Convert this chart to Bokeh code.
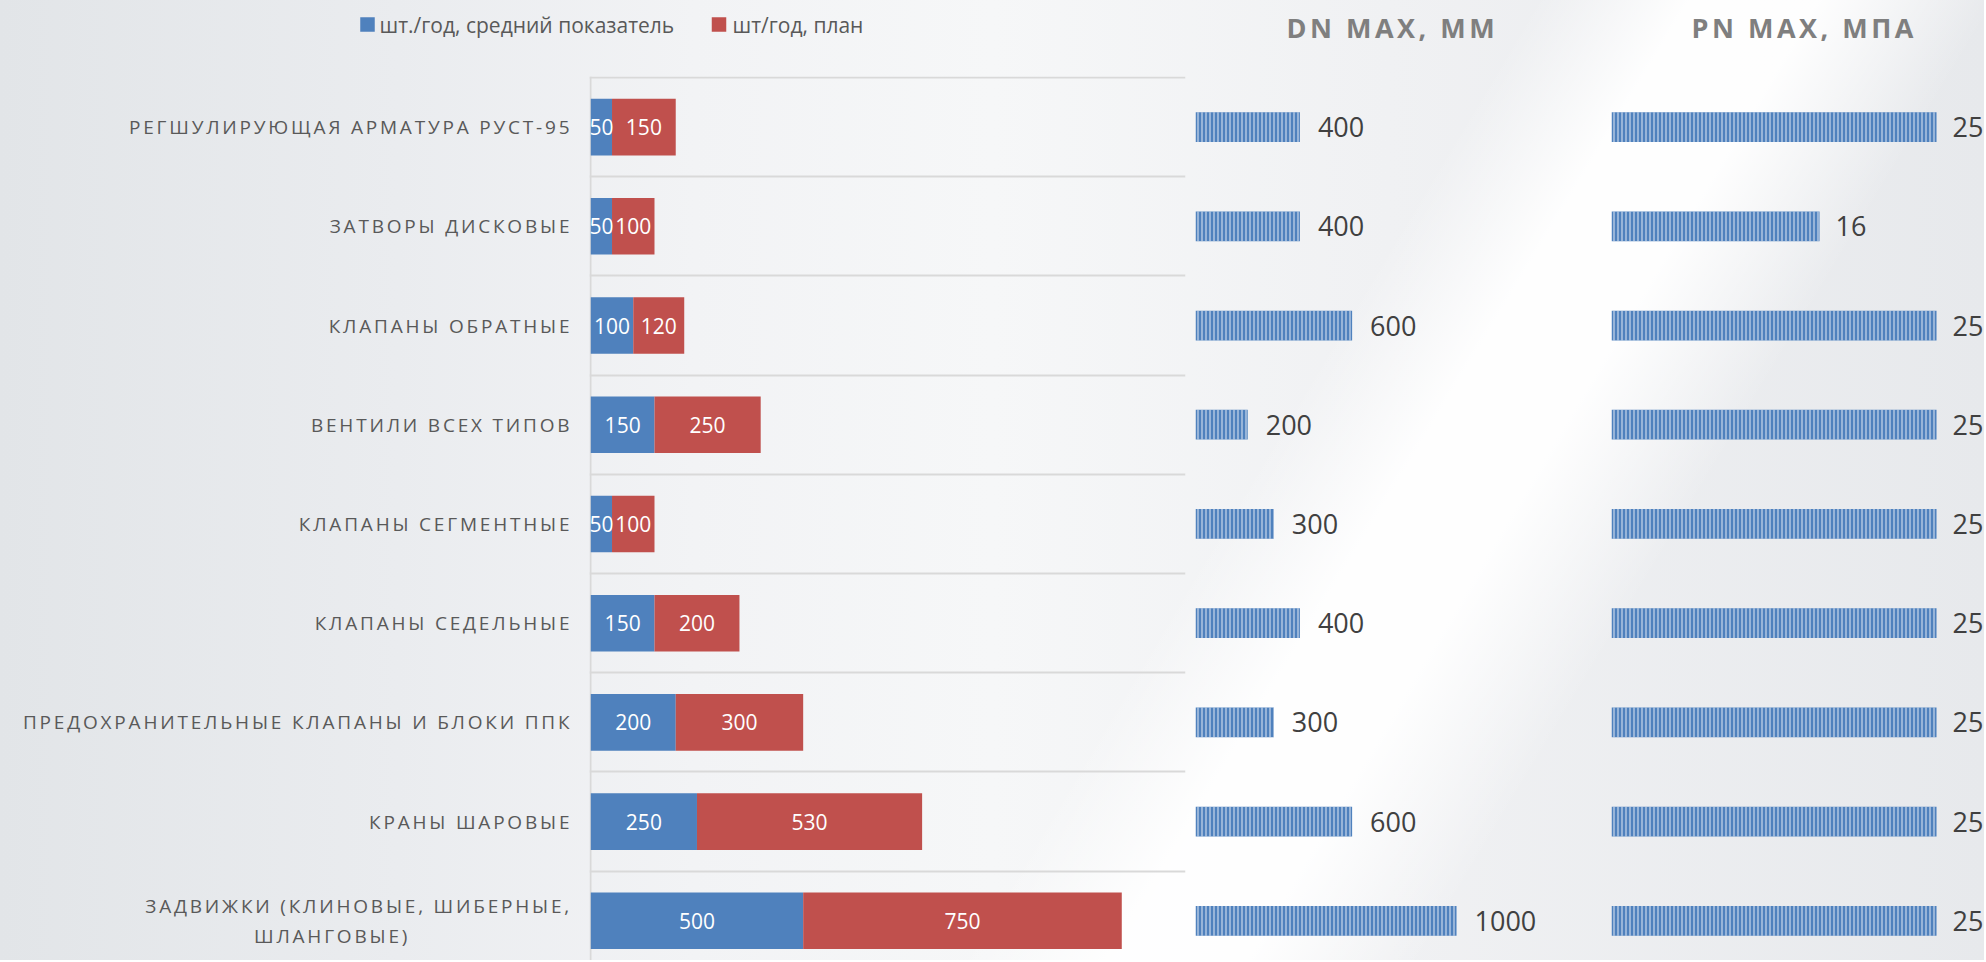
from bokeh.plotting import figure
from bokeh.models import ColumnDataSource, Range1d, FixedTicker
from bokeh.layouts import row, column
from bokeh.embed import file_html
from bokeh.resources import INLINE
from bokeh.core.properties import value, field

# ---------------- data ----------------
categories = [
    "РЕГШУЛИРУЮЩАЯ АРМАТУРА РУСТ-95",
    "ЗАТВОРЫ ДИСКОВЫЕ",
    "КЛАПАНЫ ОБРАТНЫЕ",
    "ВЕНТИЛИ ВСЕХ ТИПОВ",
    "КЛАПАНЫ СЕГМЕНТНЫЕ",
    "КЛАПАНЫ СЕДЕЛЬНЫЕ",
    "ПРЕДОХРАНИТЕЛЬНЫЕ КЛАПАНЫ И БЛОКИ ППК",
    "КРАНЫ ШАРОВЫЕ",
    "ЗАДВИЖКИ (КЛИНОВЫЕ, ШИБЕРНЫЕ,\nШЛАНГОВЫЕ)",
]
avg_per_year = [50, 50, 100, 150, 50, 150, 200, 250, 500]
plan_per_year = [150, 100, 120, 250, 100, 200, 300, 530, 750]
dn_max = [400, 400, 600, 200, 300, 400, 300, 600, 1000]
pn_max = [25, 16, 25, 25, 25, 25, 25, 25, 25]
series_names = ["шт./год, средний показатель", "шт/год, план"]
dn_title = "DN MAX, ММ"
pn_title = "PN MAX, МПА"

# ---------------- style ----------------
BLUE = "#4f81bd"
RED = "#c0504d"
SERIES_COLORS = [BLUE, RED]
GRID = "#d9d9d9"
FONT = "Open Sans"
LABEL_SIZE = 19
LABEL_SPACING = 2.8   # css letter-spacing of category labels
TITLE_SPACING = 3.5

W_L, W_M, W_D, W_P = 586, 609, 416, 373
H_HEAD, H_BODY = 73, 887

# header layout (pixels inside the header, measured from its bottom)
LEG_KEY_X = [367, 718.5]
LEG_TXT_X = [379, 732]
LEG_Y = H_HEAD - 24
TITLE_Y = H_HEAD - 27

n = len(categories)
ypos = [n - 1 - i for i in range(n)]
y_range = Range1d(n - 0.5 + 0.01 - 8.91, n - 0.5 + 0.01)


def base(width, height, x_range, yr, **kw):
    p = figure(width=width, height=height, x_range=x_range, y_range=yr,
               output_backend="svg", toolbar_location=None, min_border=0, **kw)
    p.background_fill_alpha = 0
    p.border_fill_alpha = 0
    p.outline_line_color = None
    p.axis.visible = False
    p.grid.visible = False
    return p


# ---------------- header: legend ----------------
hl = base(W_L + W_M, H_HEAD, Range1d(0, W_L + W_M), Range1d(0, H_HEAD))
hl.scatter(x=LEG_KEY_X, y=[LEG_Y] * 2, marker="square", size=14.5,
           color=SERIES_COLORS, line_color=None)
hl.text(x=LEG_TXT_X, y=[LEG_Y] * 2, text=series_names, text_align="left",
        text_baseline="middle", text_font=value(FONT), text_font_size="21px",
        text_color="#595959")


# ---------------- header: panel titles ----------------
def title_fig(width, text, left_pad):
    h = base(width, H_HEAD, Range1d(0, 1), Range1d(0, H_HEAD),
             min_border_left=left_pad)
    h.text(x=[0], y=[TITLE_Y], text=[text], text_align="left",
           text_baseline="middle", text_font=value(FONT), text_font_size="27px",
           text_font_style="bold", text_color="#7f7f7f")
    h.styles = {"letter-spacing": f"{TITLE_SPACING}px"}
    return h

hd = title_fig(W_D, dn_title, 91)
hp = title_fig(W_P, pn_title, 80)

# ---------------- body: category labels ----------------
lf = base(W_L, H_BODY, Range1d(0, 1), y_range, min_border_top=3)
aligns, offs = [], []
for c in categories:
    lines = c.split("\n")
    k = max(len(s) for s in lines)
    if len(lines) == 1:
        aligns.append("right")
        offs.append(-17 - LABEL_SPACING * (k - 1))
    else:
        # centre the wrapped lines under each other, right edge like the others
        est_w = 0.628 * LABEL_SIZE * k
        aligns.append("center")
        offs.append(-17 - est_w / 2 - LABEL_SPACING * (k - 1))
lsrc = ColumnDataSource(dict(y=ypos, label=categories, xoff=offs, align=aligns))
lf.text(x=1, y="y", text="label", x_offset="xoff", source=lsrc,
        text_align=field("align"), text_baseline="middle", text_font=value(FONT),
        text_font_size=f"{LABEL_SIZE}px", text_color="#595959", text_line_height=1.15)
lf.styles = {"letter-spacing": f"{LABEL_SPACING}px"}

# ---------------- body: main stacked bars ----------------
m = base(W_M, H_BODY, Range1d(-3, 1400), y_range,
         min_border_left=3, min_border_right=10, min_border_top=3)
msrc = ColumnDataSource(dict(
    y=ypos, avg=avg_per_year, plan=plan_per_year,
    avg_mid=[a / 2 for a in avg_per_year],
    plan_mid=[a + b / 2 for a, b in zip(avg_per_year, plan_per_year)],
    avg_txt=[str(a) for a in avg_per_year],
    plan_txt=[str(b) for b in plan_per_year],
))
m.hbar_stack(["avg", "plan"], y="y", height=0.57, color=SERIES_COLORS,
             line_color=None, source=msrc)
for xf, tf in (("avg_mid", "avg_txt"), ("plan_mid", "plan_txt")):
    m.text(x=xf, y="y", text=tf, source=msrc, text_align="center",
           text_baseline="middle", text_color="white", text_font=value(FONT),
           text_font_size="21px")
m.ygrid.visible = True
m.ygrid[0].ticker = FixedTicker(ticks=[i + 0.5 for i in range(n)])
m.ygrid.grid_line_color = GRID
m.ygrid.grid_line_width = 2
m.xgrid.visible = True
m.xgrid[0].ticker = FixedTicker(ticks=[0])
m.xgrid.grid_line_color = GRID
m.xgrid.grid_line_width = 2


# ---------------- body: DN and PN ----------------
def side_fig(width, xmax, values, xoff, min_right):
    s = base(width, H_BODY, Range1d(0, xmax), y_range,
             min_border_top=3, min_border_right=min_right)
    src = ColumnDataSource(dict(y=ypos, v=values, txt=[str(v) for v in values]))
    s.hbar(y="y", left=0, right="v", height=0.30, source=src,
           fill_color=BLUE, line_color=None,
           hatch_pattern="vertical_line", hatch_color="#dbe5f3",
           hatch_alpha=0.8, hatch_scale=4, hatch_weight=1.3)
    s.text(x="v", y="y", text="txt", source=src, x_offset=xoff,
           text_align="left", text_baseline="middle", text_color="#404040",
           text_font=value(FONT), text_font_size="27px")
    return s

d = side_fig(W_D, 1563, dn_max, 18, 8)
p = side_fig(W_P, 28.69, pn_max, 16, 0)

bg = ("linear-gradient(121deg, rgba(255,255,255,0) 60%, rgba(255,255,255,0.95) 66%, "
      "rgba(255,255,255,0.95) 71%, rgba(255,255,255,0) 78%), "
      "linear-gradient(90deg, #e2e5e8 0%, #eaecef 20%, #f2f3f5 35%, #f6f7f8 50%, "
      "#f0f1f3 70%, #e7e9ec 100%)")

layout = column(row(hl, hd, hp), row(lf, m, d, p), styles={"background": bg})

open("out.html", "w").write(file_html(layout, INLINE))
